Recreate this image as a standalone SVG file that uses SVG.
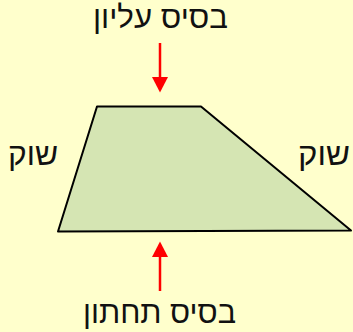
<svg xmlns="http://www.w3.org/2000/svg" width="353" height="332" viewBox="0 0 353 332">
<defs>
<style>
.lbl{font-family:"Liberation Sans","DejaVu Sans",sans-serif;font-size:31px;fill:#111;direction:rtl;unicode-bidi:embed;text-anchor:middle}
</style>
</defs>
<rect width="353" height="332" fill="#FFFFCC"/>
<g id="trapezoid">
<polygon points="97,106.5 201,106.5 351,230.5 58,231.5" fill="#D5E5B3" stroke="#000" stroke-width="2" stroke-linejoin="round"/>
</g>
<g id="label-top"><text class="lbl" x="160.5" y="28" textLength="135" lengthAdjust="spacingAndGlyphs">בסיס עליון</text></g>
<g id="label-left"><text class="lbl" x="33" y="165" textLength="50" lengthAdjust="spacingAndGlyphs">שוק</text></g>
<g id="label-right"><text class="lbl" x="324" y="165" textLength="52" lengthAdjust="spacingAndGlyphs">שוק</text></g>
<g id="label-bottom"><text class="lbl" x="159.5" y="323" textLength="153" lengthAdjust="spacingAndGlyphs">בסיס תחתון</text></g>
<g id="connectors">
<line stroke="#FF0000" stroke-width="2.5" x1="160" y1="43" x2="160" y2="80"/>
<polygon points="152,77 168,77 160,92.5" fill="#FF0000"/>
<line stroke="#FF0000" stroke-width="2.5" x1="160" y1="291" x2="160" y2="254"/>
<polygon points="152,257 168,257 160,241.5" fill="#FF0000"/>
</g>
</svg>
